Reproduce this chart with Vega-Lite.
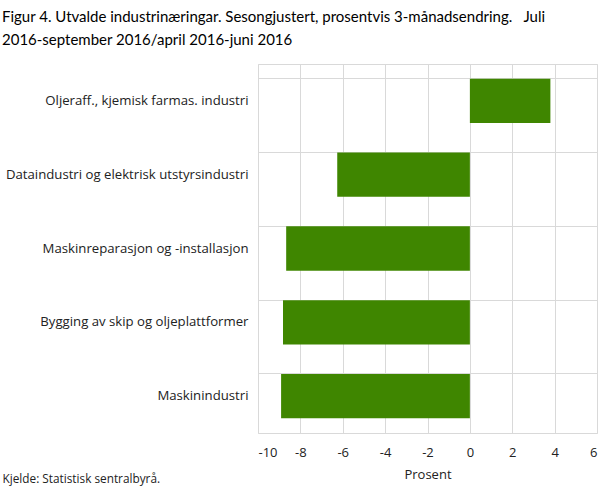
{
  "$schema": "https://vega.github.io/schema/vega-lite/v6.json",
  "autosize": {"type": "none"},
  "width": 339,
  "height": 369,
  "padding": {"left": 258, "top": 64, "right": 12, "bottom": 55},
  "background": "white",
  "title": {
    "text": ["Figur 4. Utvalde industrinæringar. Sesongjustert, prosentvis 3-månadsendring.\u00a0\u00a0\u00a0Juli", "2016-september 2016/april 2016-juni 2016"],
    "anchor": "start",
    "frame": "group",
    "dx": -256,
    "offset": 16,
    "font": "Lato",
    "fontSize": 15,
    "fontWeight": "normal",
    "lineHeight": 23,
    "color": "#000000"
  },
  "data": {
    "values": [
      {"naering": "Oljeraff., kjemisk farmas. industri", "prosent": 3.8},
      {"naering": "Dataindustri og elektrisk utstyrsindustri", "prosent": -6.26},
      {"naering": "Maskinreparasjon og -installasjon", "prosent": -8.67},
      {"naering": "Bygging av skip og oljeplattformer", "prosent": -8.82},
      {"naering": "Maskinindustri", "prosent": -8.91}
    ]
  },
  "mark": {"type": "bar", "color": "#3f8600"},
  "encoding": {
    "y": {
      "field": "naering",
      "type": "nominal",
      "sort": null,
      "scale": {"paddingInner": 0.4, "paddingOuter": 0.2},
      "axis": {
        "title": "Kjelde: Statistisk sentralbyrå.",
        "titleAngle": 0,
        "titleAlign": "left",
        "titleBaseline": "alphabetic",
        "titleX": -256,
        "titleY": 418,
        "titleFont": "Open Sans",
        "titleFontSize": 11.8,
        "titleFontWeight": "normal",
        "titleColor": "#222222",
        "labelFont": "Open Sans",
        "labelFontSize": 13.2,
        "labelColor": "#222222",
        "labelPadding": 10,
        "labelLimit": 300,
        "ticks": false,
        "domain": false,
        "grid": true,
        "bandPosition": 0,
        "gridColor": "#d9d9d9"
      }
    },
    "x": {
      "field": "prosent",
      "type": "quantitative",
      "scale": {"domain": [-10, 6], "nice": false},
      "axis": {
        "values": [-10, -8, -6, -4, -2, 0, 2, 4, 6],
        "labelExpr": "toString(datum.value)",
        "title": "Prosent",
        "titleFont": "Open Sans",
        "titleFontSize": 13,
        "titleFontWeight": "normal",
        "titleColor": "#222222",
        "titlePadding": 9,
        "labelFont": "Open Sans",
        "labelFontSize": 13,
        "labelColor": "#222222",
        "labelPadding": 13,
        "ticks": false,
        "domain": false,
        "grid": true,
        "gridColor": "#d9d9d9"
      }
    }
  },
  "config": {
    "view": {"stroke": "#d9d9d9"}
  }
}
